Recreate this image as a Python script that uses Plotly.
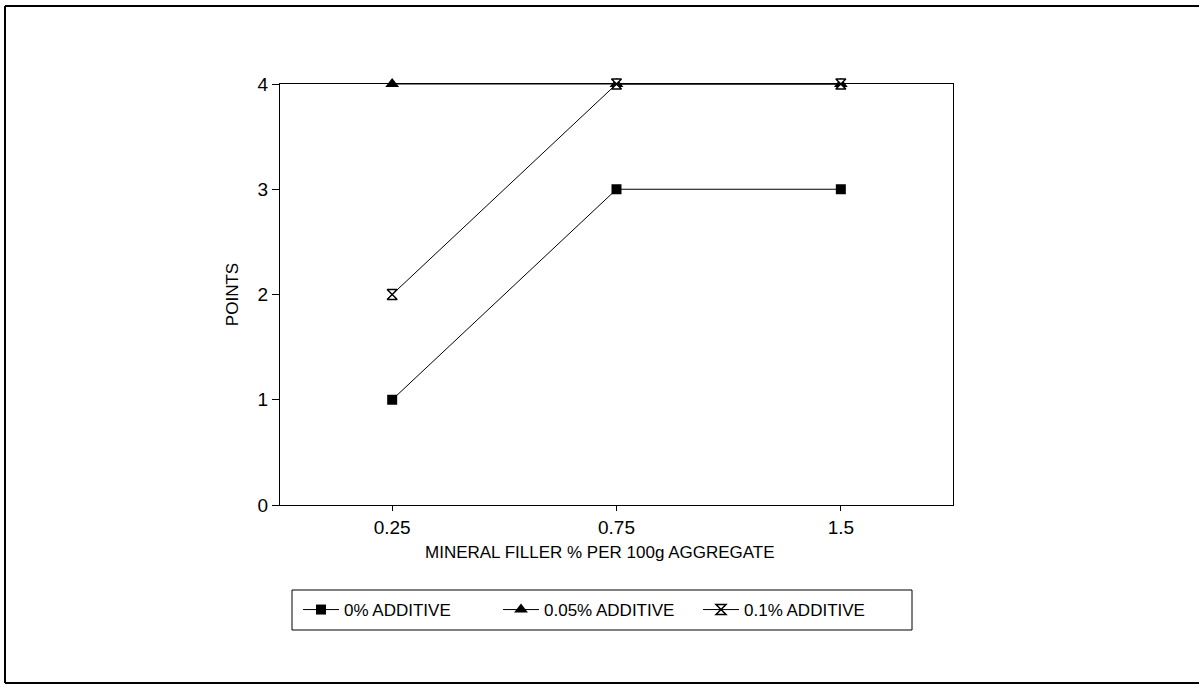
import plotly.graph_objects as go

# Mineral filler content (categories) and flow points for each additive dose
filler_levels = ["0.25", "0.75", "1.5"]
points_0 = [1, 3, 3]
points_005 = [4, 4, 4]
points_01 = [2, 4, 4]

series_names = ["0% ADDITIVE", "0.05% ADDITIVE", "0.1% ADDITIVE"]
y_ticks = [0, 1, 2, 3, 4]
x_title = "MINERAL FILLER % PER 100g AGGREGATE"

W, H = 1200, 685
L, R, T, B = 280, 247, 84, 180
PW, PH = W - L - R, H - T - B


def px_x(x):
    return (x - L) / PW


def px_y(y):
    return (H - B - y) / PH


FONT = "Liberation Sans"

fig = go.Figure()
fig.add_trace(go.Scatter(
    x=filler_levels, y=points_0, name=series_names[0], mode="lines+markers",
    line=dict(color="black", width=1),
    marker=dict(symbol="square", size=10, color="black"),
    cliponaxis=False,
))
fig.add_trace(go.Scatter(
    x=filler_levels, y=points_005, name=series_names[1], mode="lines+markers",
    line=dict(color="black", width=1),
    marker=dict(symbol="triangle-up", size=12, color="black"),
    cliponaxis=False,
))
fig.add_trace(go.Scatter(
    x=filler_levels, y=points_01, name=series_names[2], mode="lines+markers",
    line=dict(color="black", width=1),
    marker=dict(symbol="hourglass", size=10, color="white",
                line=dict(color="black", width=1.5)),
    cliponaxis=False,
))

# Outer page frame (left, top, bottom) and legend box
frame = dict(color="black", width=2)
shapes = [
    dict(type="line", xref="paper", yref="paper", x0=px_x(5), x1=px_x(1199),
         y0=px_y(6), y1=px_y(6), line=frame),
    dict(type="line", xref="paper", yref="paper", x0=px_x(5), x1=px_x(1199),
         y0=px_y(683), y1=px_y(683), line=frame),
    dict(type="line", xref="paper", yref="paper", x0=px_x(5), x1=px_x(5),
         y0=px_y(6), y1=px_y(683), line=frame),
    dict(type="rect", xref="paper", yref="paper", x0=px_x(292), x1=px_x(912),
         y0=px_y(590), y1=px_y(630), line=dict(color="black", width=1)),
]

fig.update_layout(
    width=W, height=H,
    margin=dict(l=L, r=R, t=T, b=B),
    paper_bgcolor="white", plot_bgcolor="white",
    font=dict(family=FONT, size=17, color="black"),
    showlegend=True,
    legend=dict(
        orientation="h", x=px_x(298), y=px_y(610), xanchor="left", yanchor="middle",
        bgcolor="rgba(0,0,0,0)", borderwidth=0,
        entrywidth=149, entrywidthmode="pixels",
        font=dict(family=FONT, size=17, color="black"),
        itemwidth=36,
    ),
    shapes=shapes,
    annotations=[dict(
        text=x_title, xref="paper", yref="paper", x=px_x(600), y=px_y(552),
        xanchor="center", yanchor="middle", showarrow=False,
        font=dict(family=FONT, size=17, color="black"),
    )],
    xaxis=dict(
        type="category", range=[-0.5, 2.5],
        showline=True, linecolor="black", linewidth=1, mirror=True,
        ticks="outside", ticklen=5, tickcolor="black",
        showgrid=False, zeroline=False,
        tickfont=dict(family=FONT, size=19),
    ),
    yaxis=dict(
        range=[0, 4], tickvals=y_ticks,
        showline=True, linecolor="black", linewidth=1, mirror=True,
        ticks="outside", ticklen=7, tickcolor="black",
        showgrid=False, zeroline=False,
        tickfont=dict(family=FONT, size=19),
        title=dict(text="POINTS", standoff=14, font=dict(family=FONT, size=17)),
    ),
)

fig.write_html("out.html")
